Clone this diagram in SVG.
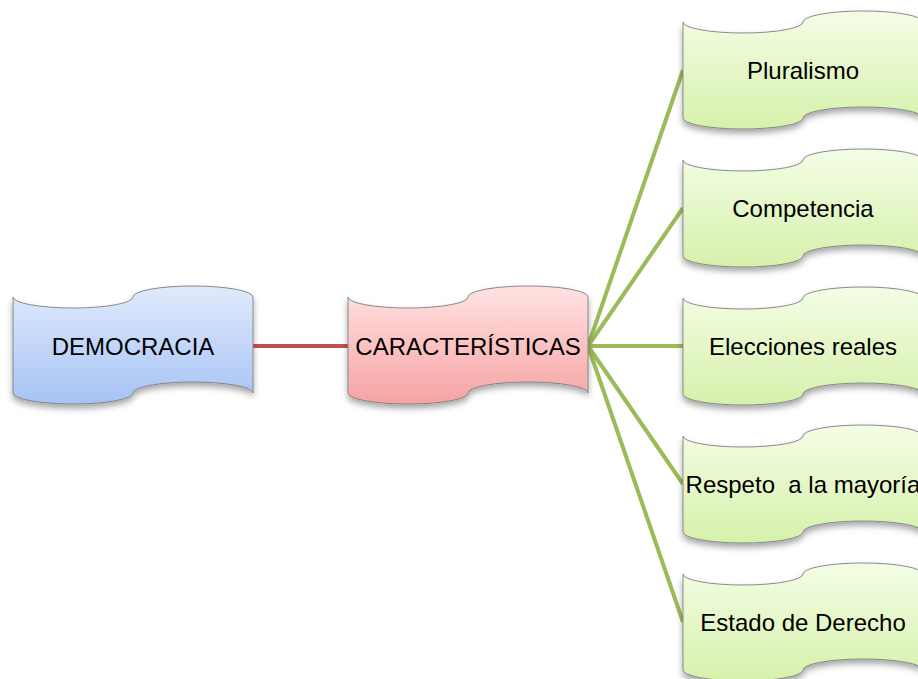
<svg xmlns="http://www.w3.org/2000/svg" xmlns:xlink="http://www.w3.org/1999/xlink" width="918" height="679" viewBox="0 0 918 679">
<style>
.lbl{font-family:"Liberation Sans",Arial,sans-serif;font-size:24px;fill:#000;text-anchor:middle;white-space:pre}
.shape{stroke:#7f7f7f;stroke-width:0.9;filter:url(#sh)}
.red{stroke:#c0504d;stroke-width:4;fill:none}
.grn{stroke:#9bbb59;stroke-width:4;fill:none}
</style>
<defs>
<path id="wave" d="M0,0 A60,11 0 0,0 120,0 A60,11 0 0,1 240,0 L240,96 A60,11 0 0,0 120,96 A60,11 0 0,1 0,96 Z"/>
<linearGradient id="gBlue" x1="0" y1="0" x2="0" y2="1"><stop offset="0" stop-color="#e0eafc"/><stop offset="1" stop-color="#a6c3f5"/></linearGradient>
<linearGradient id="gRed" x1="0" y1="0" x2="0" y2="1"><stop offset="0" stop-color="#ffe2e2"/><stop offset="1" stop-color="#f6a3a3"/></linearGradient>
<linearGradient id="gGreen" x1="0" y1="0" x2="0" y2="1"><stop offset="0" stop-color="#f4fde6"/><stop offset="1" stop-color="#d6f1ab"/></linearGradient>
<filter id="sh" x="-10%" y="-20%" width="120%" height="150%">
<feDropShadow dx="0" dy="4" stdDeviation="3" flood-color="#000" flood-opacity="0.35"/>
</filter>
</defs>
<g id="connectors">
<line class="red" x1="253" y1="346" x2="348" y2="346"/>
<line class="grn" x1="588" y1="346" x2="683" y2="70"/>
<line class="grn" x1="588" y1="346" x2="683" y2="208"/>
<line class="grn" x1="588" y1="346" x2="683" y2="346"/>
<line class="grn" x1="588" y1="346" x2="683" y2="484"/>
<line class="grn" x1="588" y1="346" x2="683" y2="622"/>
</g>
<g id="democracia">
<use xlink:href="#wave" href="#wave" class="shape" fill="url(#gBlue)" transform="translate(13,297)"/>
<text class="lbl" x="133" y="354.5">DEMOCRACIA</text>
</g>
<g id="caracteristicas">
<use xlink:href="#wave" href="#wave" class="shape" fill="url(#gRed)" transform="translate(348,297)"/>
<text class="lbl" x="468" y="354.5">CARACTERÍSTICAS</text>
</g>
<g id="pluralismo">
<use xlink:href="#wave" href="#wave" class="shape" fill="url(#gGreen)" transform="translate(683,22)"/>
<text class="lbl" x="803" y="78.5">Pluralismo</text>
</g>
<g id="competencia">
<use xlink:href="#wave" href="#wave" class="shape" fill="url(#gGreen)" transform="translate(683,160)"/>
<text class="lbl" x="803" y="216.5">Competencia</text>
</g>
<g id="elecciones">
<use xlink:href="#wave" href="#wave" class="shape" fill="url(#gGreen)" transform="translate(683,298)"/>
<text class="lbl" x="803" y="354.5">Elecciones reales</text>
</g>
<g id="respeto">
<use xlink:href="#wave" href="#wave" class="shape" fill="url(#gGreen)" transform="translate(683,436)"/>
<text class="lbl" x="803" y="492.5">Respeto  a la mayoría</text>
</g>
<g id="estado">
<use xlink:href="#wave" href="#wave" class="shape" fill="url(#gGreen)" transform="translate(683,574)"/>
<text class="lbl" x="803" y="630.5">Estado de Derecho</text>
</g>
</svg>
